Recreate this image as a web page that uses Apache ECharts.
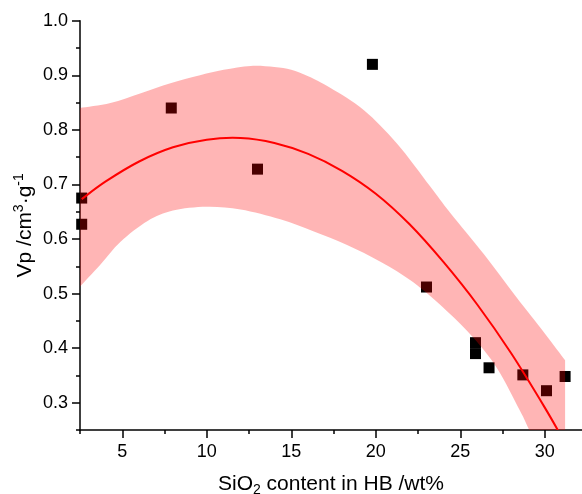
<!DOCTYPE html>
<html><head><meta charset="utf-8">
<script src="https://cdn.jsdelivr.net/npm/echarts@6/dist/echarts.min.js"></script>
<style>html,body{margin:0;padding:0;background:#fff}#c{width:582px;height:494px}</style>
</head><body><div id="c"></div>
<script>
// Measured samples
const sampleX = [2.6, 2.6, 7.9, 13.0, 19.8, 23.0, 25.9, 25.9, 26.7, 28.7, 30.1, 31.2];
const sampleY = [0.675, 0.627, 0.840, 0.728, 0.920, 0.512, 0.410, 0.390, 0.364, 0.351, 0.322, 0.348];
// Fitted curve
const fitX = [2.6, 4, 6, 8, 10, 12, 14, 16, 18, 20, 22, 24, 26, 28, 30, 31.2];
const fitY = [0.673, 0.705, 0.742, 0.768, 0.782, 0.785, 0.776, 0.756, 0.725, 0.683, 0.627, 0.558, 0.480, 0.391, 0.291, 0.226];
// Confidence band
const upperX = [2.5, 4.3, 6.1, 7.8, 9.6, 11.0, 12.6, 14.0, 15.0, 16.0, 17.3, 19.3, 21.25, 23.2, 24.4, 26.4, 28.3, 30.0, 31.2];
const upperY = [0.840, 0.849, 0.867, 0.885, 0.900, 0.910, 0.917, 0.915, 0.910, 0.898, 0.877, 0.836, 0.775, 0.697, 0.648, 0.572, 0.494, 0.427, 0.378];
const lowerX = [2.5, 3.7, 4.9, 6.5, 8.0, 10.0, 12.0, 14.35, 16.3, 18.3, 20.3, 22.2, 24.2, 25.8, 27.2, 28.5, 29.0, 30.0, 31.2];
const lowerY = [0.513, 0.553, 0.595, 0.633, 0.652, 0.659, 0.654, 0.636, 0.614, 0.589, 0.558, 0.521, 0.468, 0.418, 0.362, 0.287, 0.255, 0.185, 0.095];
// Ticks
const xTickLabels = [5, 10, 15, 20, 25, 30];
const xMinorTicks = [2.5, 7.5, 12.5, 17.5, 22.5, 27.5];
const yTickLabels = [0.3, 0.4, 0.5, 0.6, 0.7, 0.8, 0.9, 1.0];
const yMinorTicks = [0.25, 0.35, 0.45, 0.55, 0.65, 0.75, 0.85, 0.95];

const FONT = 'Liberation Sans, Arial, sans-serif';
const chart = echarts.init(document.getElementById('c'));
const xMin = 2.5, xMax = 32.2, yMin = 0.25, yMax = 1.0;

// Catmull-Rom smoothing of a pixel polyline into SVG path commands (rendering only)
function smoothPath(pts, start) {
  let d = (start ? 'M' : 'L') + pts[0][0] + ' ' + pts[0][1];
  for (let i = 0; i < pts.length - 1; i++) {
    const p0 = pts[i - 1] || pts[i], p1 = pts[i], p2 = pts[i + 1], p3 = pts[i + 2] || pts[i + 1];
    const c1 = [p1[0] + (p2[0] - p0[0]) / 6, p1[1] + (p2[1] - p0[1]) / 6];
    const c2 = [p2[0] - (p3[0] - p1[0]) / 6, p2[1] - (p3[1] - p1[1]) / 6];
    d += ' C' + c1[0] + ' ' + c1[1] + ' ' + c2[0] + ' ' + c2[1] + ' ' + p2[0] + ' ' + p2[1];
  }
  return d;
}

const baseX = {type: 'value', min: xMin, max: xMax, gridIndex: 0, splitLine: {show: false}};
const baseY = {type: 'value', min: yMin, max: yMax, gridIndex: 0, splitLine: {show: false}};

chart.setOption({
  animation: false,
  backgroundColor: '#fff',
  grid: {left: 80, right: 0, top: 20.7, bottom: 64, containLabel: false, outerBoundsMode: 'none'},
  xAxis: [
    Object.assign({}, baseX, {
      position: 'bottom',
      axisLine: {show: true, onZero: false, lineStyle: {color: '#000', width: 1.5}},
      axisTick: {show: true, length: 8, customValues: xTickLabels, lineStyle: {color: '#000', width: 1.5}},
      axisLabel: {show: true, customValues: xTickLabels, margin: 13, color: '#000', fontSize: 18, fontFamily: FONT},
      name: '{a|SiO}{s|2}{a| content in HB /wt%}',
      nameLocation: 'middle', nameGap: 41,
      nameTextStyle: {
        color: '#000', fontFamily: FONT, fontSize: 21,
        rich: {
          a: {fontSize: 21, lineHeight: 26, fontFamily: FONT, color: '#000'},
          s: {fontSize: 14, lineHeight: 14, verticalAlign: 'bottom', fontFamily: FONT, color: '#000'}
        }
      }
    }),
    Object.assign({}, baseX, {
      position: 'bottom',
      axisLine: {show: false, onZero: false},
      axisTick: {show: true, length: 4, customValues: xMinorTicks, lineStyle: {color: '#000', width: 1.5}},
      axisLabel: {show: false}
    })
  ],
  yAxis: [
    Object.assign({}, baseY, {
      position: 'left',
      axisLine: {show: true, onZero: false, lineStyle: {color: '#000', width: 1.5}},
      axisTick: {show: true, length: 8, customValues: yTickLabels, lineStyle: {color: '#000', width: 1.5}},
      axisLabel: {show: true, customValues: yTickLabels, margin: 12, color: '#000', fontSize: 18, fontFamily: FONT,
        formatter: v => v.toFixed(1)},
      name: '{a|Vp /cm}{p|3}{a|·g}{p|-1}',
      nameLocation: 'middle', nameGap: 42, nameMoveOverlap: false,
      nameTextStyle: {
        color: '#000', fontFamily: FONT, fontSize: 21,
        rich: {
          a: {fontSize: 21, lineHeight: 26, fontFamily: FONT, color: '#000'},
          p: {fontSize: 14, lineHeight: 14, verticalAlign: 'top', fontFamily: FONT, color: '#000'}
        }
      }
    }),
    Object.assign({}, baseY, {
      position: 'left',
      axisLine: {show: false, onZero: false},
      axisTick: {show: true, length: 4, customValues: yMinorTicks, lineStyle: {color: '#000', width: 1.5}},
      axisLabel: {show: false}
    })
  ],
  series: [
    {
      type: 'scatter', xAxisIndex: 0, yAxisIndex: 0, z: 2,
      symbol: 'rect', symbolSize: 11,
      itemStyle: {color: '#000', opacity: 1},
      data: sampleX.map((x, i) => [x, sampleY[i]])
    },
    {
      type: 'custom', xAxisIndex: 0, yAxisIndex: 0, z: 3, clip: true, silent: true,
      data: [[upperX[0], upperY[0]]],
      encode: {x: 0, y: 1},
      renderItem: function (params, api) {
        const up = upperX.map((x, i) => api.coord([x, upperY[i]]));
        const lo = lowerX.map((x, i) => api.coord([x, lowerY[i]])).reverse();
        const d = smoothPath(up, true) + ' ' + smoothPath(lo, false) + ' Z';
        return {type: 'path', shape: {pathData: d}, style: {fill: 'rgba(255,0,0,0.29)', stroke: null}};
      }
    },
    {
      type: 'custom', xAxisIndex: 0, yAxisIndex: 0, z: 4, clip: true, silent: true,
      data: [[fitX[0], fitY[0]]],
      encode: {x: 0, y: 1},
      renderItem: function (params, api) {
        const pts = fitX.map((x, i) => api.coord([x, fitY[i]]));
        return {type: 'path', shape: {pathData: smoothPath(pts, true)},
          style: {fill: null, stroke: '#ff0000', lineWidth: 2}};
      }
    }
  ]
});
</script>
</body></html>
